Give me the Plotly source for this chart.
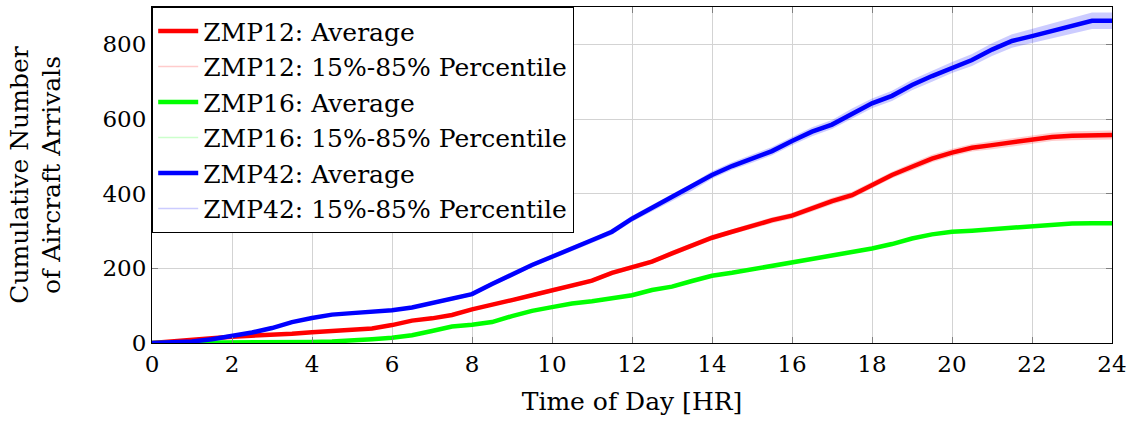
import plotly.graph_objects as go

# Time of day in hours, sampled every half hour
hours = [i * 0.5 for i in range(49)]

# ZMP12 cumulative arrivals (average) and half-width of the 15%-85% band
zmp12_avg = [0, 5, 10, 13, 17, 19, 21, 25, 29, 32, 35, 39, 48, 60, 66, 75, 90, 104, 115, 128,
             142, 153, 167, 188, 203, 218, 240, 262, 282, 298, 314, 329, 341, 361, 380, 396,
             424, 450, 472, 494, 510, 523, 530, 537, 544, 552, 555, 557, 557]
zmp12_spread = [0, 1, 1, 2, 2, 2, 2, 2, 3, 3, 3, 3, 3, 3, 4, 4, 4, 4, 5, 5,
                5, 5, 6, 6, 6, 6, 7, 7, 7, 7, 8, 8, 8, 8, 9, 9,
                9, 9, 10, 10, 10, 10, 11, 11, 11, 11, 12, 12, 12]

# ZMP16 cumulative arrivals (average) and half-width of the 15%-85% band
zmp16_avg = [0, 0, 1, 2, 3, 3, 3, 3, 3, 4, 6, 10, 14, 21, 32, 44, 49, 56, 72, 86,
             96, 106, 112, 121, 128, 142, 151, 166, 180, 188, 197, 207, 216, 227, 236, 244,
             253, 265, 280, 291, 298, 301, 305, 310, 312, 318, 320, 321, 321]
zmp16_spread = [0, 0, 1, 1, 1, 1, 1, 1, 1, 1, 1, 1, 2, 2, 2, 2, 2, 2, 2, 2,
                2, 2, 2, 2, 3, 3, 3, 3, 3, 3, 3, 3, 3, 3, 3, 3,
                3, 3, 3, 4, 4, 4, 4, 4, 4, 4, 4, 4, 4]

# ZMP42 cumulative arrivals (average) and half-width of the 15%-85% band
zmp42_avg = [0, 1, 4, 10, 18, 28, 40, 56, 67, 76, 80, 84, 88, 95, 106, 118, 131, 158, 185, 209,
             231, 253, 273, 298, 333, 362, 390, 418, 450, 474, 494, 514, 541, 566, 585, 615,
             642, 662, 691, 715, 738, 758, 786, 809, 822, 835, 850, 863, 863]
zmp42_spread = [0, 1, 1, 2, 2, 2, 3, 3, 3, 3, 4, 4, 4, 4, 5, 5, 5, 6, 6, 6,
                7, 7, 7, 8, 8, 9, 9, 10, 10, 10, 11, 11, 11, 12, 12, 13,
                13, 14, 14, 15, 15, 16, 17, 18, 19, 20, 21, 22, 22]

series = [
    ("ZMP12", zmp12_avg, zmp12_spread, "#ff0000", "rgba(255,0,0,0.2)", "#ffcccc"),
    ("ZMP16", zmp16_avg, zmp16_spread, "#00ff00", "rgba(0,255,0,0.2)", "#ccffcc"),
    ("ZMP42", zmp42_avg, zmp42_spread, "#0000ff", "rgba(0,0,255,0.2)", "#ccccff"),
]

FONT = "DejaVu Serif, Liberation Serif, serif"
fig = go.Figure()

# Percentile bands first so the averages sit on top
for name, avg, spread, col, fillcol, legcol in series:
    lower = [a - s for a, s in zip(avg, spread)]
    upper = [a + s for a, s in zip(avg, spread)]
    fig.add_trace(go.Scatter(x=hours, y=lower, mode="lines", line=dict(width=0, color=fillcol),
                             showlegend=False, hoverinfo="skip"))
    fig.add_trace(go.Scatter(x=hours, y=upper, mode="lines", line=dict(width=0, color=fillcol),
                             fill="tonexty", fillcolor=fillcol, showlegend=False, hoverinfo="skip"))

for k, (name, avg, spread, col, fillcol, legcol) in enumerate(series):
    fig.add_trace(go.Scatter(x=hours, y=avg, mode="lines", line=dict(color=col, width=4.5),
                             name=f"{name}: Average", legendrank=10 * k + 1))
    fig.add_trace(go.Scatter(x=[None], y=[None], mode="lines", line=dict(color=legcol, width=1.5),
                             name=f"{name}: 15%-85% Percentile", legendrank=10 * k + 2))

axis_common = dict(
    showgrid=True, gridcolor="#d3d3d3", gridwidth=1,
    showline=True, linecolor="black", linewidth=1.2, mirror="ticks",
    ticks="inside", ticklen=6, tickcolor="#808080", tickwidth=1,
    tickfont=dict(family=FONT, size=23, color="black"),
    zeroline=False,
)

fig.update_layout(
    width=1136, height=423,
    margin=dict(l=152, r=24, t=7, b=80),
    paper_bgcolor="white", plot_bgcolor="white",
    font=dict(family=FONT, size=25, color="black"),
    xaxis=dict(range=[0, 24], tickvals=list(range(0, 25, 2)),
               title=dict(text="Time of Day [HR]", font=dict(family=FONT, size=25), standoff=16),
               **axis_common),
    yaxis=dict(range=[0, 900], tickvals=[0, 200, 400, 600, 800],
               title=dict(text="Cumulative Number<br>of Aircraft Arrivals",
                          font=dict(family=FONT, size=25), standoff=34),
               **axis_common),
    legend=dict(x=0, y=1, xanchor="left", yanchor="top", traceorder="normal",
                bgcolor="white", bordercolor="black", borderwidth=1.2,
                font=dict(family=FONT, size=25), itemwidth=40),
    showlegend=True,
)

fig.write_html("out.html")
